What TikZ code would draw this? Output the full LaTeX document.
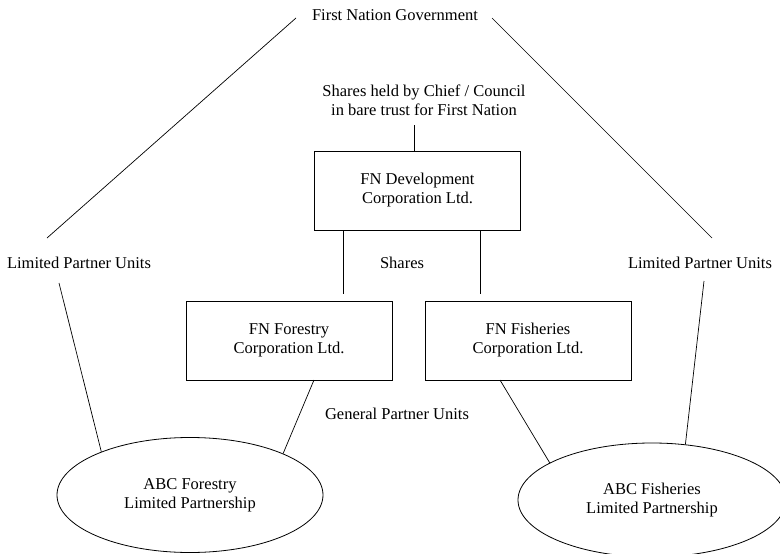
\documentclass[tikz,border=0pt]{standalone}
\usepackage{fontspec}
\setmainfont{Liberation Serif}
\usetikzlibrary{shapes.geometric,calc}
\begin{document}
\begin{tikzpicture}[x=1pt,y=-1pt,
  every node/.style={font=\fontsize{16.5}{19}\selectfont, align=center, inner sep=0pt},
  box/.style={draw, line width=0.8pt, minimum width=206pt, minimum height=79pt},
  oval/.style={draw, line width=0.8pt, ellipse, minimum width=266pt, minimum height=115pt},
  conn/.style={line width=0.7pt}]
\useasboundingbox[fill=white] (0,0) rectangle (780,554);
\node (gov) at (395,15) {First Nation Government};
\node (held) at (424,100.5) {Shares held by Chief / Council\\in bare trust for First Nation};
\node[box] (dev) at (417.5,190.5) {FN Development\\Corporation Ltd.};
\node (lpl) at (79,263) {Limited Partner Units};
\node (lpr) at (700,263) {Limited Partner Units};
\node (sh) at (402,263) {Shares};
\node[box] (for) at (289,340.5) {FN Forestry\\Corporation Ltd.};
\node[box] (fis) at (528,340.5) {FN Fisheries\\Corporation Ltd.};
\node (gpu) at (397,414) {General Partner Units};
\node[oval] (elA) at (190,495) {ABC Forestry\\Limited Partnership};
\node[oval, minimum width=268pt, minimum height=114pt] (elB) at (652,500) {ABC Fisheries\\Limited Partnership};
% free ends
\coordinate (g1) at (296,18);
\coordinate (g2) at (47,238);
\coordinate (g3) at (492,18);
\coordinate (g4) at (712,238);
\coordinate (l1) at (59,283);
\coordinate (r1) at (704,281);
\coordinate (h1) at (414,125);
\coordinate (h2) at (414,151);
\coordinate (d1) at (343,230);
\coordinate (d2) at (343,294);
\coordinate (d3) at (480,230);
\coordinate (d4) at (480,294);
\coordinate (f1) at (314,380);
\coordinate (f2) at (500,380);
\draw[conn] (g1) -- (g2);
\draw[conn] (g3) -- (g4);
\draw[conn] (l1) -- (elA.154);
\draw[conn] (r1) -- (elB.59);
\draw[conn] (h1) -- (h2);
\draw[conn] (d1) -- (d2);
\draw[conn] (d3) -- (d4);
\draw[conn] (f1) -- (elA.24);
\draw[conn] (f2) -- (elB.160);
\end{tikzpicture}
\end{document}
